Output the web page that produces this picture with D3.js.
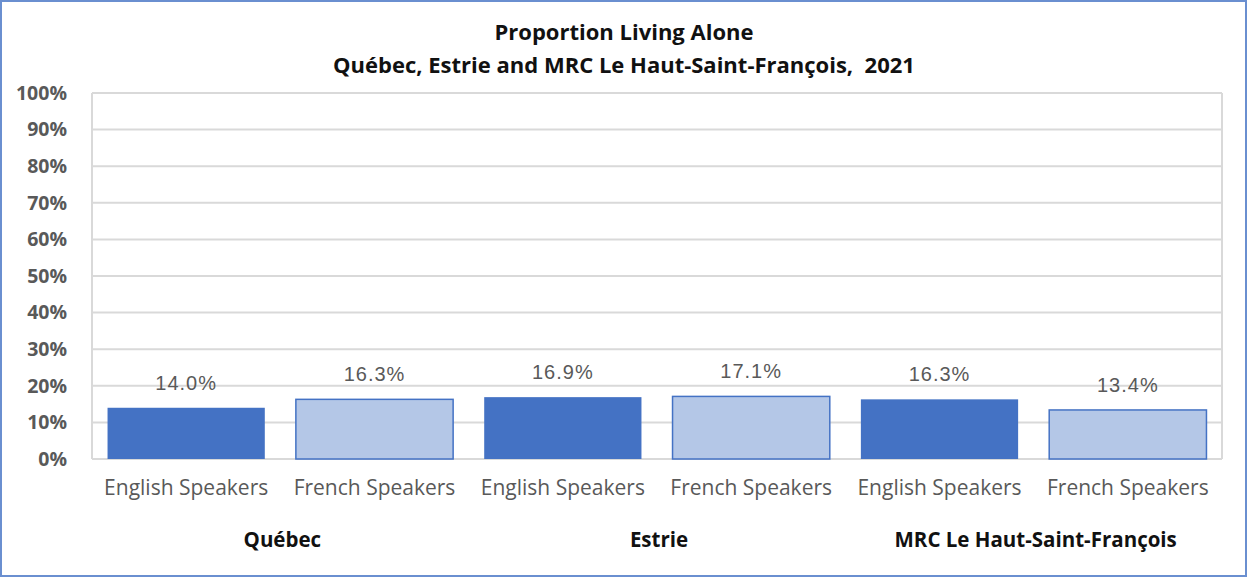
<!DOCTYPE html>
<html><head><meta charset="utf-8">
<script src="https://cdn.jsdelivr.net/npm/d3@7"></script>
<style>body{margin:0;background:#fff}svg{display:block}</style>
</head><body>
<script>
const groups = ["Québec", "Estrie", "MRC Le Haut-Saint-François"];
const languages = ["English Speakers", "French Speakers"];
const englishValues = [14.0, 16.9, 16.3];
const frenchValues = [16.3, 17.1, 13.4];
const yTicks = [0,10,20,30,40,50,60,70,80,90,100];
const titleLines = ["Proportion Living Alone", "Québec, Estrie and MRC Le Haut-Saint-François,  2021"];

const W = 1247, H = 577;
const m = {left: 92, right: 25, top: 93, bottom: 118};
const font = "'Open Sans', Lato, sans-serif";

const rows = [];
groups.forEach((g,i)=>{
  rows.push({group:g, lang:languages[0], value:englishValues[i], key:g+"|"+languages[0]});
  rows.push({group:g, lang:languages[1], value:frenchValues[i], key:g+"|"+languages[1]});
});

const svg = d3.select("body").append("svg").attr("width",W).attr("height",H);
svg.append("rect").attr("x",1).attr("y",1).attr("width",W-2).attr("height",H-2)
  .attr("fill","#fff").attr("stroke","#6A8FD0").attr("stroke-width",2);

const x = d3.scaleBand().domain(rows.map(d=>d.key)).range([m.left, W-m.right]).paddingInner(0.165).paddingOuter(0.0825);
const y = d3.scaleLinear().domain([0,100]).range([H-m.bottom, m.top]);

// gridlines
svg.append("g").selectAll("line").data(yTicks).join("line")
  .attr("x1",m.left).attr("x2",W-m.right)
  .attr("y1",d=>y(d)).attr("y2",d=>y(d))
  .attr("stroke","#D9D9D9").attr("stroke-width",2);
svg.append("line").attr("x1",m.left).attr("x2",m.left).attr("y1",y(100)).attr("y2",y(0)).attr("stroke","#D9D9D9").attr("stroke-width",2);
svg.append("line").attr("x1",W-m.right).attr("x2",W-m.right).attr("y1",y(100)).attr("y2",y(0)).attr("stroke","#D9D9D9").attr("stroke-width",2);

// y axis labels
const yAxis = d3.axisLeft(y).tickValues(yTicks).tickFormat(d=>d+"%").tickSize(0).tickPadding(25);
const ya = svg.append("g").attr("transform",`translate(${m.left},0)`).call(yAxis);
ya.select(".domain").remove();
ya.selectAll("text").attr("font-family",font).attr("font-weight","bold").attr("font-size",19.5).attr("fill","#595959");

// bars
svg.append("g").selectAll("rect").data(rows).join("rect")
  .attr("x",d=>x(d.key)).attr("width",x.bandwidth())
  .attr("y",d=>y(d.value)).attr("height",d=>y(0)-y(d.value))
  .attr("fill",d=>d.lang===languages[0]?"#4472C4":"#B4C7E7")
  .attr("stroke",d=>d.lang===languages[0]?"none":"#4472C4").attr("stroke-width",1.5);

// value labels
svg.append("g").selectAll("text").data(rows).join("text")
  .attr("x",d=>x(d.key)+x.bandwidth()/2).attr("y",d=>y(d.value)-18)
  .attr("text-anchor","middle").attr("font-family","'Liberation Sans', Arial, sans-serif")
  .attr("font-size",20).attr("letter-spacing",1).attr("fill","#595959").text(d=>d.value.toFixed(1)+"%");

// category labels
const xAxis = d3.axisBottom(x).tickFormat(k=>k.split("|")[1]).tickSize(0).tickPadding(21);
const xa = svg.append("g").attr("transform",`translate(0,${y(0)})`).call(xAxis);
xa.select(".domain").remove();
xa.selectAll("text").attr("font-family",font).attr("font-size",21).attr("fill","#595959");

// group labels
svg.append("g").selectAll("text").data(groups).join("text")
  .attr("x",g=>(x(g+"|"+languages[0]) + x(g+"|"+languages[1])+x.bandwidth())/2 + 2)
  .attr("y",547).attr("text-anchor","middle")
  .attr("font-family",font).attr("font-weight","bold").attr("font-size",20.5).attr("fill","#111")
  .text(g=>g);

// title
svg.append("g").selectAll("text").data(titleLines).join("text")
  .attr("x",624).attr("y",(d,i)=>40+i*33)
  .attr("text-anchor","middle").attr("font-family",font).attr("font-weight","bold")
  .attr("font-size",22).attr("fill","#111").style("white-space","pre").text(d=>d);
</script>
</body></html>
